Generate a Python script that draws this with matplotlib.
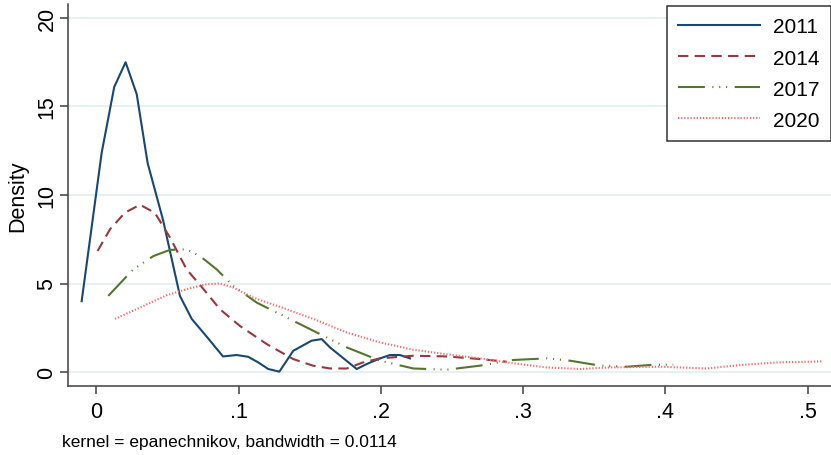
import numpy as np
import matplotlib
matplotlib.use('Agg')
import matplotlib.pyplot as plt
from matplotlib.lines import Line2D

plt.rcParams['font.family'] = ['Liberation Sans', 'DejaVu Sans']

# densities
x_2011 = [-0.0104, 0.0037, 0.0125, 0.0205, 0.0283, 0.036, 0.0468, 0.0587, 0.067, 0.0775,
          0.089, 0.0986, 0.1067, 0.1138, 0.1208, 0.1286, 0.1384, 0.1513, 0.1584, 0.1642,
          0.183, 0.19, 0.1994, 0.2064, 0.2134, 0.2205]
y_2011 = [4.0, 12.4, 16.1, 17.5, 15.7, 11.8, 8.6, 4.3, 3.0, 2.0,
          0.88, 0.96, 0.86, 0.54, 0.17, 0.02, 1.2, 1.77, 1.86, 1.39,
          0.17, 0.45, 0.77, 0.96, 0.96, 0.77]

x_2014 = [0.0008, 0.0095, 0.02, 0.0306, 0.041, 0.0517, 0.0634, 0.0751, 0.0868, 0.1009,
          0.1197, 0.1384, 0.1522, 0.1642, 0.176, 0.1874, 0.1994, 0.2226, 0.2463, 0.2697, 0.2885]
y_2014 = [6.84, 8.06, 9.0, 9.45, 9.0, 7.6, 5.8, 4.7, 3.55, 2.6,
          1.58, 0.73, 0.36, 0.2, 0.2, 0.54, 0.77, 0.92, 0.88, 0.73, 0.58]

x_2017 = [0.0083, 0.0259, 0.04, 0.0517, 0.0634, 0.0728, 0.0845, 0.0962, 0.1127, 0.129,
          0.1525, 0.176, 0.1994, 0.2228, 0.2463, 0.2697, 0.2931, 0.3166, 0.333, 0.3541,
          0.3729, 0.3916, 0.4056]
y_2017 = [4.3, 5.8, 6.55, 6.9, 6.93, 6.55, 5.8, 4.87, 3.92, 3.27,
          2.33, 1.39, 0.64, 0.2, 0.13, 0.36, 0.68, 0.77, 0.64, 0.36,
          0.3, 0.41, 0.41]

x_2020 = [0.013, 0.0306, 0.0494, 0.0634, 0.0775, 0.0868, 0.0962, 0.1103, 0.129, 0.1431,
          0.1525, 0.176, 0.1994, 0.2228, 0.2463, 0.2697, 0.2931, 0.3166, 0.34, 0.3611,
          0.3963, 0.4291, 0.4549, 0.4783, 0.5111]
y_2020 = [3.0, 3.64, 4.34, 4.68, 4.96, 5.0, 4.77, 4.2, 3.68, 3.27,
          3.0, 2.23, 1.67, 1.26, 1.0, 0.77, 0.49, 0.26, 0.17, 0.26,
          0.3, 0.2, 0.41, 0.54, 0.6]

years = ['2011', '2014', '2017', '2020']
x_ticks = [0, 0.1, 0.2, 0.3, 0.4, 0.5]
x_ticklabels = ['0', '.1', '.2', '.3', '.4', '.5']
y_ticks = [0, 5, 10, 15, 20]

styles = [
    dict(color='#1a476f', linestyle='-', lw=1.5),
    dict(color='#94393f', linestyle=(0, (5, 3)), lw=1.5),
    dict(color='#55752f', linestyle=(0, (12.9, 3.6, 0.5, 2.8, 0.5, 2.8, 0.5, 3.6)), lw=1.5),
    dict(color='#ff6868', linestyle=(0, (0.6, 0.9)), lw=1.5),
]

W, H = 831, 456
fig = plt.figure(figsize=(W / 100, H / 100), dpi=100)
ax = fig.add_axes([68 / W, (H - 387) / H, (W - 68) / W, (387 - 5) / H])

for xs, ys, st in zip([x_2011, x_2014, x_2017, x_2020],
                      [y_2011, y_2014, y_2017, y_2020], styles):
    ax.plot(xs, ys, **st)

ax.set_xlim(-0.02, 0.5165)
ax.set_ylim(-0.79, 20.79)
ax.set_xticks(x_ticks)
ax.set_xticklabels(x_ticklabels)
ax.set_yticks(y_ticks)
for lab in ax.get_yticklabels():
    lab.set_rotation(90)
    lab.set_va('center')
ax.grid(axis='y', color='#e3eef1', lw=1.2)
ax.set_axisbelow(True)
for s in ['top', 'right']:
    ax.spines[s].set_visible(False)
for s in ['left', 'bottom']:
    ax.spines[s].set_color('#404040')
    ax.spines[s].set_linewidth(1.1)
ax.tick_params(direction='out', length=6, width=1.1, color='#404040',
               labelsize=15.5, pad=5)
ax.tick_params(axis='y', pad=1.5)
ax.set_ylabel('Density', fontsize=15.5, labelpad=6)

handles = [Line2D([], [], **st) for st in styles]
leg = fig.legend(handles, years, loc='upper left', bbox_to_anchor=(667 / W, 1 - 7 / H),
                 fontsize=15, handlelength=3.9, handletextpad=0.65, labelspacing=0.58,
                 borderpad=0.55, borderaxespad=0, fancybox=False, framealpha=1,
                 edgecolor='#333333')
leg.get_frame().set_linewidth(1.1)

fig.text(62 / W, 1 - 443 / H, 'kernel = epanechnikov, bandwidth = 0.0114',
         fontsize=12.5, va='center', ha='left')

fig.savefig('out.png', dpi=100)
